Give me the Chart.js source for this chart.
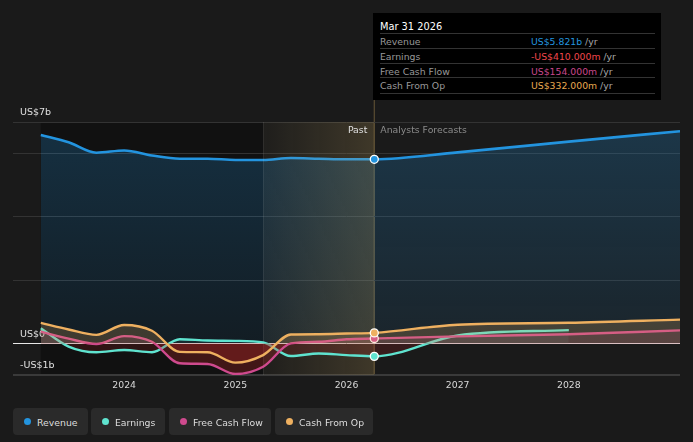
<!DOCTYPE html>
<html>
<head>
<meta charset="utf-8">
<script src="https://cdn.jsdelivr.net/npm/chart.js@4.4.1/dist/chart.umd.min.js"></script>
<style>
  html,body{margin:0;padding:0;background:#1a1a1a;font-family:"DejaVu Sans",sans-serif;}
  #wrap{position:relative;width:693px;height:442px;overflow:hidden;}
  #c{position:absolute;left:0;top:0;}
  #tip{position:absolute;left:373px;top:13px;width:288px;height:87px;background:#000;color:#999;font-size:9.3px;}
  #tip .title{position:absolute;left:7px;transform:translateY(-50%);color:#fff;font-size:9.8px;top:13px;}
  #tip .row{position:absolute;left:7px;width:275px;height:14px;border-top:1px solid #333;}
  #tip .row span{position:absolute;top:50%;transform:translateY(-50%);white-space:nowrap;}
  #tip .row .v{left:151px;}
  #tip .yr{color:#aaa;}
  #tip .last{position:absolute;left:7px;width:275px;top:80px;border-top:1px solid #333;}
  .leg{position:absolute;top:408px;height:27px;background:#2a2a2a;border-radius:4px;color:#ddd;font-size:9.3px;}
  .leg i{position:absolute;left:11px;top:10px;width:7px;height:7px;border-radius:50%;}
  .leg span{position:absolute;left:24px;top:50%;transform:translateY(-50%);white-space:nowrap;}
</style>
</head>
<body>
<div id="wrap">
  <canvas id="c" width="693" height="442"></canvas>
  <div id="tip">
    <div class="title">Mar 31 2026</div>
    <div class="row" style="top:20px"><span>Revenue</span><span class="v"><b style="font-weight:normal;color:#2394df">US$5.821b</b> <span class="yr" style="position:static;transform:none">/yr</span></span></div>
    <div class="row" style="top:35px"><span>Earnings</span><span class="v"><b style="font-weight:normal;color:#f0474c">-US$410.000m</b> <span class="yr" style="position:static;transform:none">/yr</span></span></div>
    <div class="row" style="top:50px"><span>Free Cash Flow</span><span class="v"><b style="font-weight:normal;color:#c9478c">US$154.000m</b> <span class="yr" style="position:static;transform:none">/yr</span></span></div>
    <div class="row" style="top:64px"><span>Cash From Op</span><span class="v"><b style="font-weight:normal;color:#e9a950">US$332.000m</b> <span class="yr" style="position:static;transform:none">/yr</span></span></div>
    <div class="last"></div>
  </div>
  <div class="leg" style="left:13px;width:75px"><i style="background:#2394df"></i><span>Revenue</span></div>
  <div class="leg" style="left:91px;width:74px"><i style="background:#5fe3cf"></i><span>Earnings</span></div>
  <div class="leg" style="left:169px;width:102px"><i style="background:#cf4a8e"></i><span>Free Cash Flow</span></div>
  <div class="leg" style="left:275px;width:98px"><i style="background:#eeb060"></i><span>Cash From Op</span></div>
</div>
<script>
// ---- data (US$ billions) ----
const dates = ['2023-03-31','2023-06-30','2023-09-30','2023-12-31','2024-03-31','2024-06-30','2024-09-30','2024-12-31',
               '2025-03-31','2025-06-30','2025-09-30','2025-12-31','2026-03-31','2026-12-31','2027-12-31','2028-12-31'];
const revenue  = [6.59, 6.36, 6.03, 6.10, 5.94, 5.84, 5.84, 5.80, 5.80, 5.86, 5.84, 5.82, 5.821, 6.04, 6.38, 6.71];
const earnings = [0.48, -0.10, -0.28, -0.21, -0.28, 0.13, 0.09, 0.08, 0.03, -0.40, -0.32, -0.37, -0.41, 0.25, 0.42, null];
const freeCashFlow = [0.37, 0.15, -0.02, 0.23, 0.05, -0.63, -0.65, -0.97, -0.74, 0.00, 0.05, 0.13, 0.154, 0.22, 0.29, 0.41];
const cashFromOp   = [0.65, 0.44, 0.27, 0.58, 0.40, -0.27, -0.28, -0.61, -0.37, 0.28, 0.29, 0.31, 0.332, 0.59, 0.65, 0.75];
const yTickLabels = {7:'US$7b', 0:'US$0', '-1':'-US$1b'};
const xTickYears = [2024, 2025, 2026, 2027, 2028];
const pastEnd = '2026-03-31';
const highlightStart = '2025-03-31';

function toYear(d){ const p = d.split('-').map(Number); return p[0] + p[1]/12; }
const xs = dates.map(toYear);
const lastIdx = dates.indexOf(pastEnd);
const pts = arr => arr.map((v,i)=>({x:xs[i], y:v}));

const FONT = '"DejaVu Sans", sans-serif';

const bgPlugin = {
  id:'bg',
  beforeDraw(chart){
    const {ctx, chartArea:a, scales:{x}} = chart;
    const xStart = x.getPixelForValue(xs[0]);
    const xHl = x.getPixelForValue(toYear(highlightStart));
    const xPast = x.getPixelForValue(toYear(pastEnd));
    ctx.save();
    ctx.fillStyle = '#111111';
    ctx.fillRect(xStart, a.top, xHl - xStart, a.bottom - a.top);
    ctx.strokeStyle = 'rgba(170,140,80,0.45)';
    ctx.lineWidth = 1.2;
    ctx.beginPath();
    ctx.moveTo(xPast, 100);
    ctx.lineTo(xPast, a.bottom);
    ctx.stroke();
    ctx.restore();
  },
  afterDatasetDraw(chart, args){
    if (args.index !== 0) return;
    const {ctx, chartArea:a, scales:{x}} = chart;
    const xHl = x.getPixelForValue(toYear(highlightStart));
    const xPast = x.getPixelForValue(toYear(pastEnd));
    ctx.save();
    const g = ctx.createLinearGradient(xHl, 0, xPast, 0);
    g.addColorStop(0, 'rgba(210,180,110,0.03)');
    g.addColorStop(1, 'rgba(210,175,100,0.2)');
    ctx.fillStyle = g;
    ctx.fillRect(xHl, a.top, xPast - xHl, a.bottom - a.top);
    ctx.strokeStyle = 'rgba(255,255,255,0.08)';
    ctx.lineWidth = 1;
    ctx.beginPath();
    ctx.moveTo(Math.round(xHl) + 0.5, a.top);
    ctx.lineTo(Math.round(xHl) + 0.5, a.bottom);
    ctx.stroke();
    ctx.restore();
  },
  afterDatasetsDraw(chart){
    const {ctx, scales:{x}} = chart;
    const xPast = x.getPixelForValue(toYear(pastEnd));
    ctx.save();
    ctx.font = '9.3px ' + FONT;
    ctx.textBaseline = 'middle';
    ctx.textAlign = 'right';
    ctx.fillStyle = '#e0e0e0';
    ctx.fillText('Past', xPast - 7, 131);
    ctx.textAlign = 'left';
    ctx.fillStyle = '#8a8a8a';
    ctx.fillText('Analysts Forecasts', xPast + 6, 131);
    ctx.restore();
  }
};

function revFill(ctx){
  const chart = ctx.chart; const a = chart.chartArea;
  if(!a) return 'rgba(35,148,223,0.15)';
  const y0 = chart.scales.y.getPixelForValue(0);
  const g = chart.ctx.createLinearGradient(0, a.top, 0, y0);
  g.addColorStop(0, 'rgba(35,148,223,0.24)');
  g.addColorStop(1, 'rgba(35,148,223,0.09)');
  return g;
}

const pr = () => (ctx => ctx.dataIndex === lastIdx ? 4 : 0);

new Chart(document.getElementById('c'), {
  type:'line',
  data:{
    datasets:[
      {label:'Revenue', data:pts(revenue), borderColor:'#2394df', borderWidth:2.6,
       fill:{target:'origin', above:revFill, below:revFill}, backgroundColor:revFill,
       pointRadius:0, order:4},
      {label:'Earnings', data:pts(earnings), borderColor:'#5fe3cf', borderWidth:2.4,
       fill:{target:'origin', above:'rgba(95,227,207,0.07)', below:'rgba(190,40,40,0.18)'},
       pointRadius:pr(), pointBackgroundColor:'#5fe3cf', pointBorderColor:'#fff', pointBorderWidth:1.3, order:3},
      {label:'Free Cash Flow', data:pts(freeCashFlow), borderColor:'#cf4a8e', borderWidth:2.4,
       fill:{target:'origin', above:'rgba(207,74,142,0.14)', below:'rgba(190,40,40,0.28)'},
       pointRadius:pr(), pointBackgroundColor:'#cf4a8e', pointBorderColor:'#fff', pointBorderWidth:1.3, order:2},
      {label:'Cash From Op', data:pts(cashFromOp), borderColor:'#eeb060', borderWidth:2.4,
       fill:{target:'origin', above:'rgba(238,176,96,0.2)', below:'rgba(190,40,40,0.28)'},
       pointRadius:pr(), pointBackgroundColor:'#eeb060', pointBorderColor:'#fff', pointBorderWidth:1.3, order:1},
      {label:'Revenue point', data:pts(revenue).slice(lastIdx, lastIdx+1), showLine:false,
       pointRadius:4, pointBackgroundColor:'#2394df', pointBorderColor:'#fff', pointBorderWidth:1.3, order:0}
    ]
  },
  options:{
    responsive:false, animation:false,
    layout:{padding:{left:13, right:13, top:122, bottom:47}},
    elements:{line:{cubicInterpolationMode:'monotone'}, point:{hoverRadius:0}},
    plugins:{legend:{display:false}, tooltip:{enabled:false}},
    events:[],
    scales:{
      x:{type:'linear', min:2023, max:2029,
         afterBuildTicks: s => { s.ticks = xTickYears.map(v=>({value:v})); },
         afterFit: s => { s.height = 20; },
         grid:{display:false, drawTicks:false}, border:{display:false},
         ticks:{color:'#d8d8d8', font:{family:FONT, size:9.3}, padding:5, maxRotation:0, callback:v=>String(v)}},
      y:{type:'linear', min:-1, max:7,
         afterBuildTicks: s => { s.ticks = [-1,0,2,4,6,7].map(v=>({value:v})); },
         afterFit: s => { s.width = 0; },
         border:{display:false},
         grid:{drawTicks:false,
               color: c => c.tick.value === 0 ? '#e8e8e8' : (c.tick.value === -1 ? '#3a3a3a' : '#333333'),
               lineWidth: c => c.tick.value === -1 ? 2 : 1},
         ticks:{mirror:true, padding:7, labelOffset:-9, color:'#e0e0e0', font:{family:FONT, size:9.5},
                callback: v => yTickLabels[v] !== undefined ? yTickLabels[v] : ''}}
    }
  },
  plugins:[bgPlugin]
});
</script>
</body>
</html>
